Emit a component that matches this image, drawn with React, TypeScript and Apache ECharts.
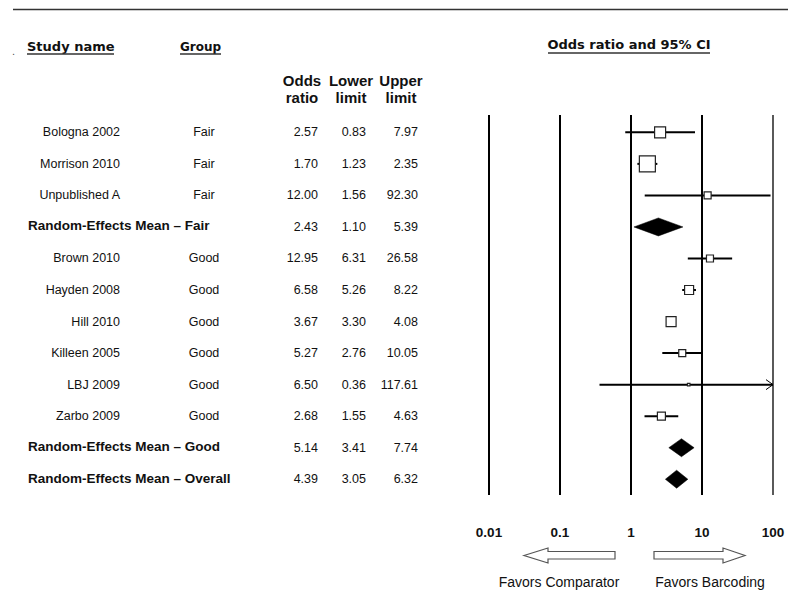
import React, { useEffect, useRef } from "react";
import * as echarts from "echarts";

// ---- data ----
const studyNames = [
  "Bologna 2002",
  "Morrison 2010",
  "Unpublished A",
  "Random-Effects Mean – Fair",
  "Brown 2010",
  "Hayden 2008",
  "Hill 2010",
  "Killeen 2005",
  "LBJ 2009",
  "Zarbo 2009",
  "Random-Effects Mean – Good",
  "Random-Effects Mean – Overall",
];
const groups = ["Fair", "Fair", "Fair", "", "Good", "Good", "Good", "Good", "Good", "Good", "", ""];
const isSummary = [false, false, false, true, false, false, false, false, false, false, true, true];
const oddsRatios = [2.57, 1.7, 12.0, 2.43, 12.95, 6.58, 3.67, 5.27, 6.5, 2.68, 5.14, 4.39];
const lowerLimits = [0.83, 1.23, 1.56, 1.1, 6.31, 5.26, 3.3, 2.76, 0.36, 1.55, 3.41, 3.05];
const upperLimits = [7.97, 2.35, 92.3, 5.39, 26.58, 8.22, 4.08, 10.05, 117.61, 4.63, 7.74, 6.32];
// relative study weights (drawn as box side)
const relativeWeights = [11, 16, 7, 0, 7, 9, 10, 7, 2.5, 8, 0, 0];
const axisTicks = [0.01, 0.1, 1, 10, 100];
const axisTickLabels = ["0.01", "0.1", "1", "10", "100"];
const columnHeaders = [
  ["Odds", "ratio"],
  ["Lower", "limit"],
  ["Upper", "limit"],
];
const favorsLabels = ["Favors Comparator", "Favors Barcoding"];

const AXIS_MIN = 0.01;
const AXIS_MAX = 100;
const ROW_MIN = -0.55;
const ROW_MAX = 11.5;

const SANS = "'Liberation Sans', Arial, sans-serif";
const HEAD = "'DejaVu Sans', Verdana, sans-serif";

function txt(text: string, x: number, y: number, align: string, opts: any = {}) {
  return {
    type: "text",
    x,
    y,
    silent: true,
    style: {
      text,
      align,
      verticalAlign: "middle",
      fill: opts.fill || "#111",
      fontSize: opts.fontSize || 12.5,
      fontFamily: opts.fontFamily || SANS,
      fontWeight: opts.fontWeight || "normal",
    },
  };
}

function buildOption(): any {
  const forestData = oddsRatios.map((v, i) => [v, i, lowerLimits[i], upperLimits[i]]);
  const tableData = studyNames.map((_, i) => [1, i]);
  const lineData = axisTicks.map((t) => [t, 0]);

  const graphics: any[] = [
    { type: "line", silent: true, shape: { x1: 13, y1: 9.5, x2: 788, y2: 9.5 }, style: { stroke: "#333", lineWidth: 1.5 } },
    txt(".", 12, 51, "left", { fontSize: 11, fill: "#555" }),
    txt("Study name", 27, 46, "left", { fontFamily: HEAD, fontWeight: "bold", fontSize: 13 }),
    { type: "line", silent: true, shape: { x1: 27, y1: 54, x2: 114, y2: 54 }, style: { stroke: "#333", lineWidth: 1.5 } },
    txt("Group", 180, 47, "left", { fontFamily: HEAD, fontWeight: "bold", fontSize: 12 }),
    { type: "line", silent: true, shape: { x1: 180, y1: 54, x2: 221, y2: 54 }, style: { stroke: "#333", lineWidth: 1.5 } },
    txt("Odds ratio and 95% CI", 629, 44, "center", { fontFamily: HEAD, fontWeight: "bold", fontSize: 13 }),
    { type: "line", silent: true, shape: { x1: 548, y1: 53, x2: 710, y2: 53 }, style: { stroke: "#333", lineWidth: 1.5 } },
  ];
  const headerX = [302, 351, 401];
  columnHeaders.forEach((lines, c) => {
    graphics.push(txt(lines[0], headerX[c], 80, "center", { fontWeight: "bold", fontSize: 15 }));
    graphics.push(txt(lines[1], headerX[c], 97, "center", { fontWeight: "bold", fontSize: 15 }));
  });
  // direction arrows
  graphics.push({
    type: "polygon",
    silent: true,
    shape: { points: [[524, 555.5], [548, 548], [548, 551.5], [615, 551.5], [615, 559], [548, 559], [548, 563]] },
    style: { fill: "#fff", stroke: "#555", lineWidth: 1.2 },
  });
  graphics.push({
    type: "polygon",
    silent: true,
    shape: { points: [[654, 551.5], [723, 551.5], [723, 548], [745, 555.5], [723, 563], [723, 559], [654, 559]] },
    style: { fill: "#fff", stroke: "#555", lineWidth: 1.2 },
  });
  graphics.push(txt(favorsLabels[0], 559, 582, "center", { fontSize: 14 }));
  graphics.push(txt(favorsLabels[1], 710, 582, "center", { fontSize: 14 }));

  return {
    animation: false,
    backgroundColor: "#fff",
    textStyle: { fontFamily: SANS },
    grid: { left: 489, right: 15, top: 115, bottom: 114, containLabel: false },
    xAxis: {
      type: "log",
      logBase: 10,
      min: AXIS_MIN,
      max: AXIS_MAX,
      splitNumber: 4,
      axisLine: { show: false },
      axisTick: { show: false },
      splitLine: { show: false },
      axisLabel: {
        show: true,
        margin: 30,
        showMinLabel: true,
        showMaxLabel: true,
        color: "#111",
        fontWeight: "bold",
        fontSize: 13.5,
        fontFamily: SANS,
        formatter: (v: number) => {
          const idx = Math.round(Math.log10(v)) + 2;
          return axisTickLabels[idx] ?? "";
        },
      },
    },
    yAxis: { type: "value", inverse: true, min: ROW_MIN, max: ROW_MAX, show: false },
    graphic: graphics,
    series: [
      {
        type: "custom",
        name: "reference lines",
        silent: true,
        clip: false,
        data: lineData,
        encode: { x: 0, y: 1 },
        renderItem: (params: any, api: any) => {
          const t = api.value(0);
          const x = api.coord([t, 0])[0];
          const y1 = api.coord([t, ROW_MIN])[1];
          const y2 = api.coord([t, ROW_MAX])[1];
          const last = params.dataIndex === axisTicks.length - 1;
          return {
            type: "line",
            shape: { x1: x, y1, x2: x, y2 },
            style: { stroke: "#000", lineWidth: last ? 1.3 : 2 },
          };
        },
      },
      {
        type: "custom",
        name: "forest",
        silent: true,
        clip: false,
        data: forestData,
        encode: { x: 0, y: 1 },
        z: 3,
        renderItem: (params: any, api: any) => {
          const i = params.dataIndex;
          const or = api.value(0);
          const lo = api.value(2);
          const hi = api.value(3);
          const [xM, y] = api.coord([or, i]);
          const xL = api.coord([Math.max(lo, AXIS_MIN), i])[0];
          const xU = api.coord([Math.min(hi, AXIS_MAX), i])[0];
          if (isSummary[i]) {
            return {
              type: "polygon",
              shape: { points: [[xL, y], [xM, y - 9], [xU, y], [xM, y + 9]] },
              style: { fill: "#000", stroke: "#000", lineWidth: 0.5 },
            };
          }
          const s = relativeWeights[i];
          const children: any[] = [
            { type: "line", shape: { x1: xL, y1: y, x2: xU, y2: y }, style: { stroke: "#000", lineWidth: 2 } },
            {
              type: "rect",
              shape: { x: xM - s / 2, y: y - s / 2, width: s, height: s },
              style: { fill: "#fff", stroke: "#222", lineWidth: 1.2 },
            },
          ];
          if (hi > AXIS_MAX) {
            children.push({
              type: "polyline",
              shape: { points: [[xU - 7, y - 5], [xU, y], [xU - 7, y + 5]] },
              style: { stroke: "#000", fill: "none", lineWidth: 1 },
            });
          }
          return { type: "group", children };
        },
      },
      {
        type: "custom",
        name: "table",
        silent: true,
        clip: false,
        data: tableData,
        encode: { x: 0, y: 1 },
        renderItem: (params: any, api: any) => {
          const i = params.dataIndex;
          const y = api.coord([1, i])[1];
          const children: any[] = [];
          if (isSummary[i]) {
            children.push(txt(studyNames[i], 28, y - 1, "left", { fontWeight: "bold", fontSize: 13.5 }));
          } else {
            children.push(txt(studyNames[i], 120, y, "right"));
            children.push(txt(groups[i], 204, y, "center"));
          }
          children.push(txt(oddsRatios[i].toFixed(2), 318, y, "right"));
          children.push(txt(lowerLimits[i].toFixed(2), 366, y, "right"));
          children.push(txt(upperLimits[i].toFixed(2), 418, y, "right"));
          return { type: "group", children };
        },
      },
    ],
  };
}

export default function App() {
  const ref = useRef<HTMLDivElement>(null);
  useEffect(() => {
    if (!ref.current) return;
    const chart = echarts.init(ref.current, null, { renderer: "svg" });
    chart.setOption(buildOption());
    return () => {
      chart.dispose();
    };
  }, []);
  return (
    <div
      ref={ref}
      style={{ position: "fixed", left: 0, top: 0, width: 788, height: 609, background: "#fff" }}
    />
  );
}
